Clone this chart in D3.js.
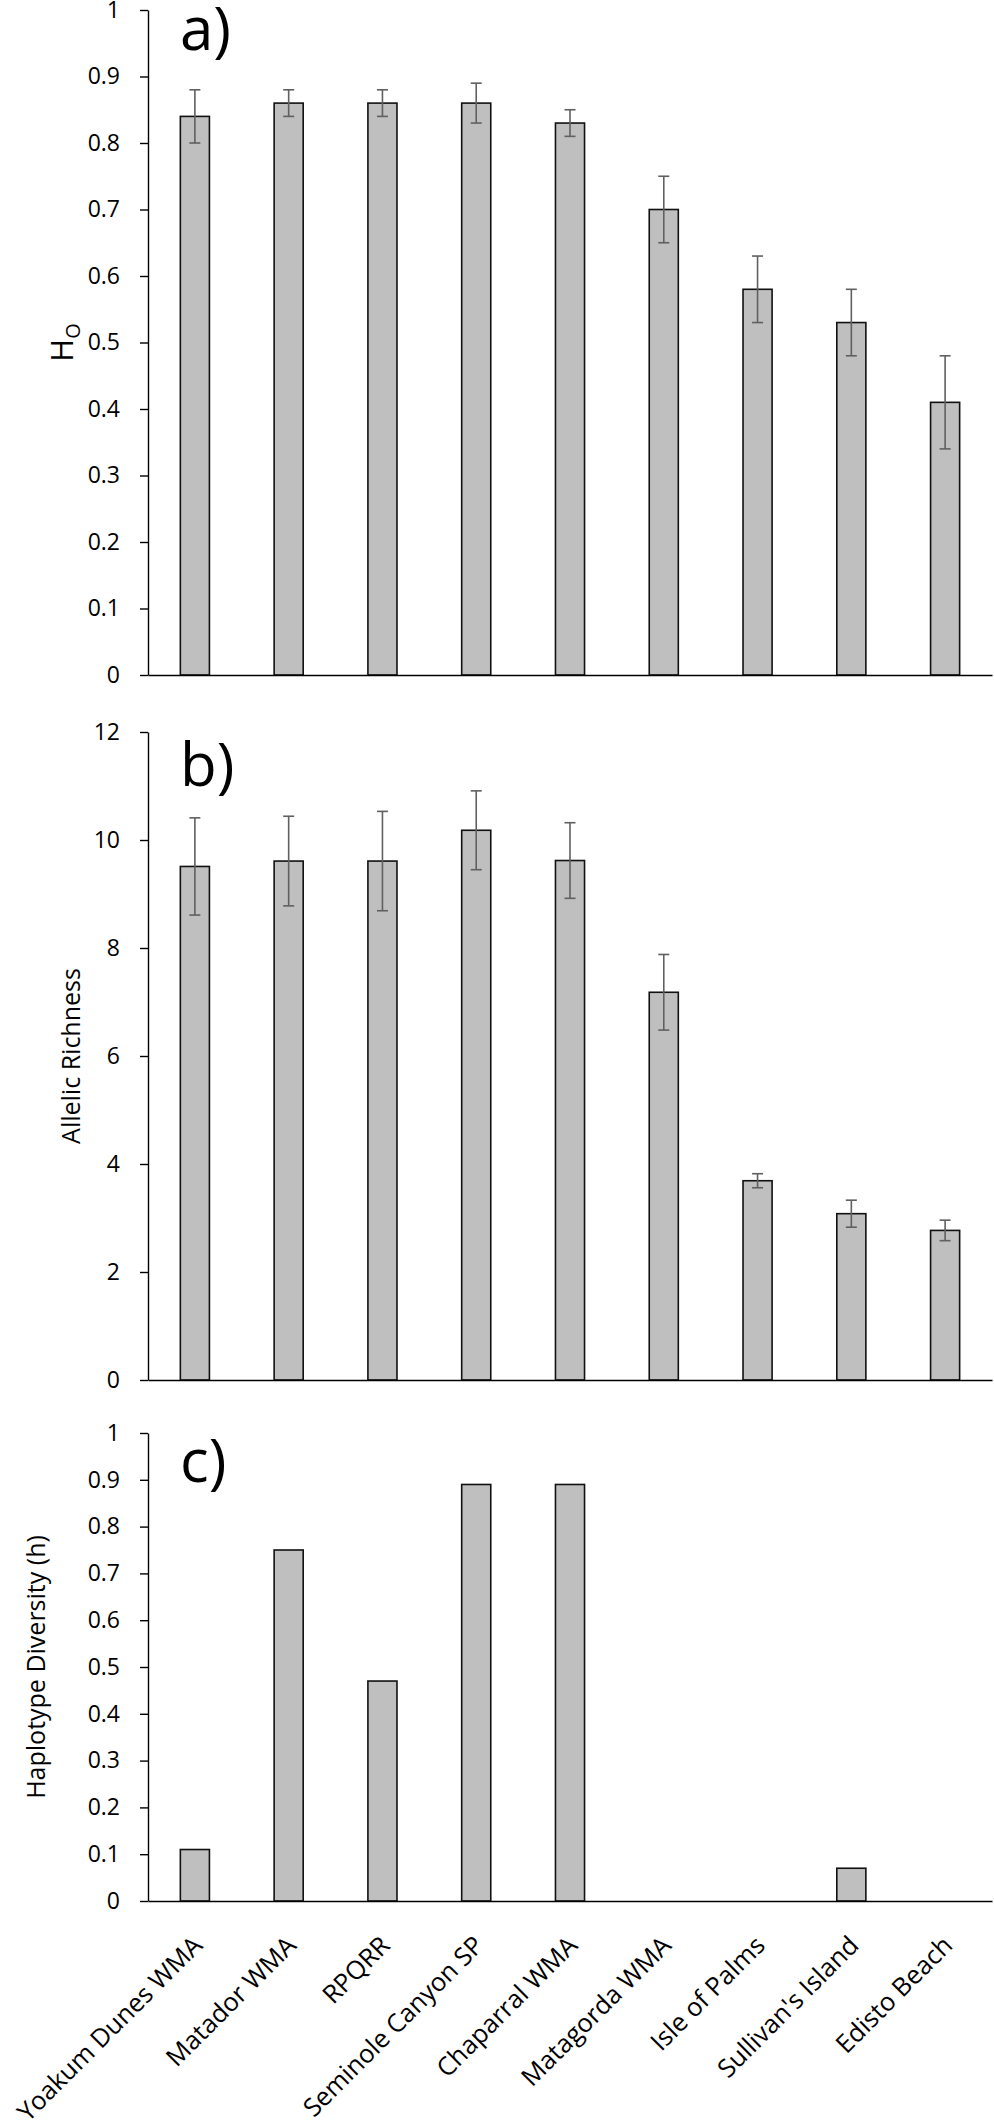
<!DOCTYPE html>
<html>
<head>
<meta charset="utf-8">
<script src="https://cdn.jsdelivr.net/npm/d3@7"></script>
<style>
  body { margin: 0; background: #fff; }
  text { font-family: "Open Sans", sans-serif; fill: #000; }
</style>
</head>
<body>
<svg width="994" height="2126"></svg>
<script>
// **** Data ****
var sites = ["Yoakum Dunes WMA", "Matador WMA", "RPQRR", "Seminole Canyon SP", "Chaparral WMA",
             "Matagorda WMA", "Isle of Palms", "Sullivan's Island", "Edisto Beach"];

var hoValues = [0.84, 0.86, 0.86, 0.86, 0.83, 0.70, 0.58, 0.53, 0.41];
var hoErrors = [0.04, 0.02, 0.02, 0.03, 0.02, 0.05, 0.05, 0.05, 0.07];

var arValues = [9.51, 9.61, 9.61, 10.18, 9.62, 7.18, 3.69, 3.08, 2.77];
var arErrors = [0.90, 0.83, 0.92, 0.73, 0.70, 0.70, 0.13, 0.25, 0.19];

var hdValues = [0.11, 0.75, 0.47, 0.89, 0.89, 0, 0, 0.07, 0];

var hoTicks = [0, 0.1, 0.2, 0.3, 0.4, 0.5, 0.6, 0.7, 0.8, 0.9, 1];
var hoTickLabels = ["0", "0.1", "0.2", "0.3", "0.4", "0.5", "0.6", "0.7", "0.8", "0.9", "1"];
var arTicks = [0, 2, 4, 6, 8, 10, 12];
var arTickLabels = ["0", "2", "4", "6", "8", "10", "12"];
var hdTicks = hoTicks;
var hdTickLabels = hoTickLabels;

// **** Layout ****
var svg = d3.select("svg");
var left = 148, right = 992;

var xScale = d3.scaleBand().domain(sites).range([left, right])
    .paddingInner(0.69).paddingOuter(0.345);

var panels = [
  { top: 10, bottom: 675, max: 1, ticks: hoTicks, tickLabels: hoTickLabels,
    values: hoValues, errors: hoErrors, letter: "a)", letterY: 50, titleX: 73 },
  { top: 732, bottom: 1380, max: 12, ticks: arTicks, tickLabels: arTickLabels,
    values: arValues, errors: arErrors, letter: "b)", letterY: 786,
    title: "Allelic Richness", titleX: 80 },
  { top: 1433, bottom: 1901, max: 1, ticks: hdTicks, tickLabels: hdTickLabels,
    values: hdValues, errors: null, letter: "c)", letterY: 1482,
    title: "Haplotype Diversity (h)", titleX: 45 }
];

panels.forEach(function (p, pi) {
  var yScale = d3.scaleLinear().domain([0, p.max]).range([p.bottom, p.top]);
  var g = svg.append("g");

  var rows = sites.map(function (s, i) {
    return { site: s, value: p.values[i], err: p.errors ? p.errors[i] : null };
  });

  // bars
  g.selectAll(".bar").data(rows).enter().append("rect")
    .attr("class", "bar")
    .attr("x", function (d) { return xScale(d.site); })
    .attr("width", xScale.bandwidth())
    .attr("y", function (d) { return yScale(d.value); })
    .attr("height", function (d) { return yScale(0) - yScale(d.value); })
    .style("fill", "#bfbfbf")
    .style("stroke", function (d) { return d.value > 0 ? "#111" : "none"; })
    .style("stroke-width", 1.6);

  // error bars
  if (p.errors) {
    var eb = g.selectAll(".err").data(rows).enter().append("g").attr("class", "err")
      .style("stroke", "#606060").style("stroke-width", 1.6);
    eb.append("line")
      .attr("x1", function (d) { return xScale(d.site) + xScale.bandwidth() / 2; })
      .attr("x2", function (d) { return xScale(d.site) + xScale.bandwidth() / 2; })
      .attr("y1", function (d) { return yScale(d.value + d.err); })
      .attr("y2", function (d) { return yScale(d.value - d.err); });
    [1, -1].forEach(function (sign) {
      eb.append("line")
        .attr("x1", function (d) { return xScale(d.site) + xScale.bandwidth() / 2 - 5.5; })
        .attr("x2", function (d) { return xScale(d.site) + xScale.bandwidth() / 2 + 5.5; })
        .attr("y1", function (d) { return yScale(d.value + sign * d.err); })
        .attr("y2", function (d) { return yScale(d.value + sign * d.err); });
    });
  }

  // y axis
  var yAxis = g.append("g").attr("transform", "translate(" + left + ",0)")
    .call(d3.axisLeft(yScale).tickValues(p.ticks).tickSize(8).tickSizeOuter(0).tickPadding(20)
      .tickFormat(function (d, i) { return p.tickLabels[i]; }));
  yAxis.selectAll("text").style("font-size", "23px").style("font-family", "Open Sans");
  yAxis.selectAll("path, line").style("stroke", "#000").style("stroke-width", 1.4);

  // x axis line
  var xAxis = g.append("g").attr("transform", "translate(0," + yScale(0) + ")")
    .call(d3.axisBottom(xScale).tickSize(0).tickSizeOuter(0).tickFormat(""));
  xAxis.selectAll("path").style("stroke", "#000").style("stroke-width", 1.4);

  // panel letter
  g.append("text").attr("x", 180).attr("y", p.letterY)
    .style("font-size", "60px").text(p.letter);

  // y title
  var mid = (p.top + p.bottom) / 2;
  var t = g.append("text")
    .attr("transform", "translate(" + p.titleX + "," + mid + ") rotate(-90)")
    .attr("text-anchor", "middle");
  if (pi === 0) {
    t.style("font-size", "31px");
    t.append("tspan").text("H");
    t.append("tspan").attr("dy", 7).style("font-size", "20px").text("O");
  } else {
    t.style("font-size", "25px").text(p.title);
  }

  // category labels under last panel
  if (pi === panels.length - 1) {
    g.selectAll(".cat").data(sites).enter().append("text")
      .attr("class", "cat")
      .attr("text-anchor", "end")
      .attr("transform", function (d) {
        return "translate(" + (xScale(d) + xScale.bandwidth() / 2 + 9) + "," + (yScale(0) + 46) + ") rotate(-45)";
      })
      .style("font-size", "25.5px")
      .text(function (d) { return d; });
  }
});
</script>
</body>
</html>
